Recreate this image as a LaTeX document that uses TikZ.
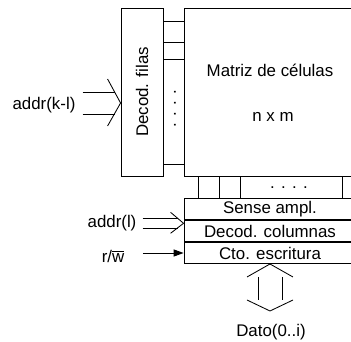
\documentclass[tikz,border=0pt]{standalone}
\usepackage{fontspec}
\setmainfont{Liberation Sans}
\usetikzlibrary{positioning,calc,arrows.meta}

\begin{document}
\begin{tikzpicture}[
  x=0.025cm, y=-0.025cm, line width=0.6pt,
  every node/.style={font=\fontsize{12}{14}\selectfont},
  block/.style={draw, inner sep=0pt, minimum width=4.3cm},
  row/.style={block, minimum height=0.525cm}
]
\useasboundingbox (0,0) rectangle (351,342);

% row decoder and cell array
\node[draw, inner sep=0pt, minimum width=1.05cm, minimum height=4.2cm] (decod) at (142,92) {\rotatebox{90}{Decod. filas}};
\node[block, minimum height=4.2cm] (matriz) at (270,92) {};
\node (mtxt) at (270,70) {Matriz de células};
\node (mdim) at (273,117) {n x m};
\foreach \y in {21,42,59,164}
  \draw (decod.east |- 0,\y) -- (matriz.west |- 0,\y);
\node (rdots) at (175,109) {\rotatebox{90}{. . . .}};

% column side
\node[row, below=0.55cm of matriz] (sense) {Sense ampl.};
\node[row, below=0pt of sense] (colum) {Decod. columnas};
\node[row, below=0pt of colum] (cto) {Cto. escritura};
\foreach \x in {198,219,240,342}
  \draw (matriz.south -| \x,0) -- (sense.north -| \x,0);
\node (cdots) at (289,188) {. . . .};

% addr(k-l)
\node (addrkl) at (44,105) {addr(k-l)};
\coordinate (kltip) at ($(decod.west)+(0,11)$);
\draw ($(kltip)+(-13,-24)$) -- (kltip) -- ($(kltip)+(-13,23)$);
\draw ($(kltip)+(-38,-11)$) -- ($(kltip)+(-6,-11)$);
\draw ($(kltip)+(-38,11)$) -- ($(kltip)+(-6,11)$);

% addr(l)
\node (addrl) at (112,223) {addr(l)};
\coordinate (ltip) at ($(sense.south west)+(0,3)$);
\draw ($(ltip)+(-13,-11)$) -- (ltip) -- ($(ltip)+(-13,10)$);
\draw ($(ltip)+(-41,-5)$) -- ($(ltip)+(-6,-5)$);
\draw ($(ltip)+(-41,5)$) -- ($(ltip)+(-6,5)$);

% r/w
\node (rw) at (113,256) {r/\(\overline{\mbox{w}}\)};
\coordinate (rwstart) at (143,253);
\draw[-{Triangle[length=7pt,width=5pt]}] (rwstart) -- (rwstart -| cto.west);

% data
\coordinate (dtop) at (cto.south);
\coordinate (dbot) at ($(cto.south)+(0,47)$);
\draw ($(dtop)+(-23,13)$) -- (dtop) -- ($(dtop)+(23,13)$);
\draw ($(dbot)+(-23,-11)$) -- (dbot) -- ($(dbot)+(23,-11)$);
\draw ($(dtop)+(-12,13)$) -- ($(dbot)+(-12,-11)$);
\draw ($(dtop)+(12,13)$) -- ($(dbot)+(12,-11)$);
\node (dato) at (271,332) {Dato(0..i)};
\end{tikzpicture}
\end{document}
